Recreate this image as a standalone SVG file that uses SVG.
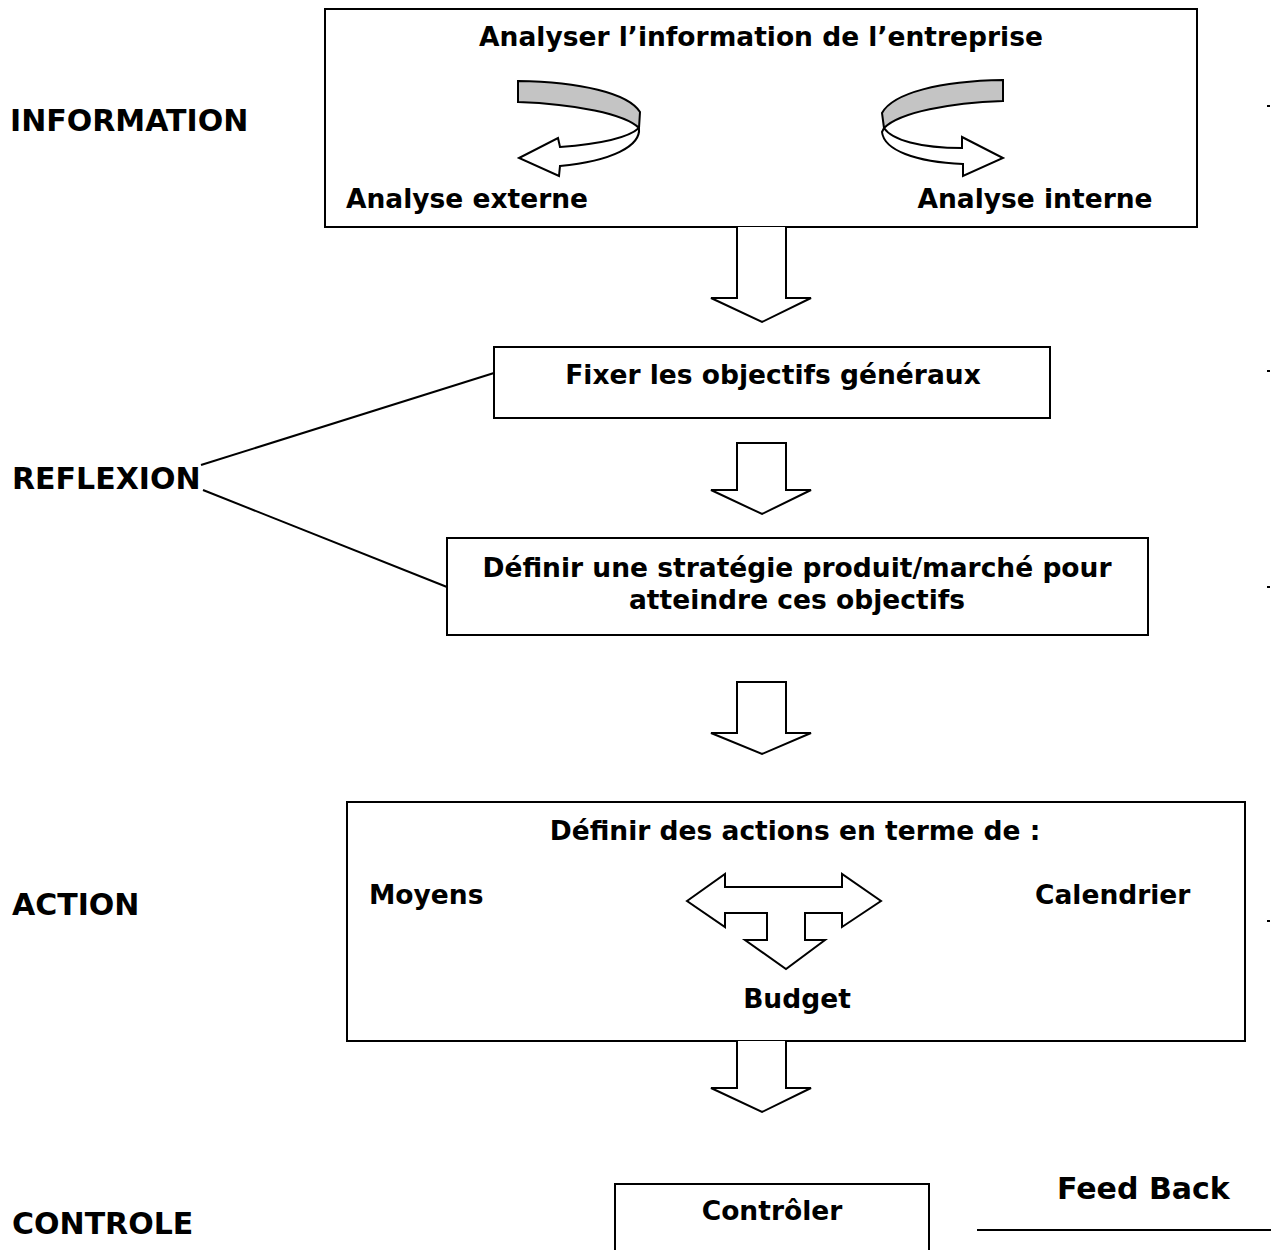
<svg xmlns="http://www.w3.org/2000/svg" width="1271" height="1250" viewBox="0 0 1271 1250">
<style>
.box{fill:#fff;stroke:#000;stroke-width:2}
.t{font-family:"DejaVu Sans","Verdana",sans-serif;font-weight:bold;font-size:26.5px;fill:#000}
.lab{font-family:"DejaVu Sans","Verdana",sans-serif;font-weight:bold;font-size:30px;fill:#000}
.m{text-anchor:middle}
.ar{fill:#fff;stroke:#000;stroke-width:2;stroke-linejoin:miter}
.sh{fill:#c4c4c4;stroke:#000;stroke-width:2}
.ln{fill:none;stroke:#000;stroke-width:2}
</style>
<rect width="1271" height="1250" fill="#fff"/>
<g id="labels">
<text class="lab" x="10" y="131">INFORMATION</text>
<text class="lab" x="12" y="489">REFLEXION</text>
<text class="lab" x="12" y="915">ACTION</text>
<text class="lab" x="12" y="1234">CONTROLE</text>
<text class="lab" x="1057" y="1199">Feed Back</text>
</g>
<g id="n-information">
<rect class="box" x="325" y="9" width="872" height="218"/>
<text class="t m" x="761" y="46">Analyser l’information de l’entreprise</text>
<path class="sh" d="M518,81 C580,82 628,93 640,112 L639,128 C625,114 575,104 518,102 Z"/>
<path class="ar" d="M639,128 C641,146 612,161 560,166 L559,176 L519,158 L558,138 L560,147 C600,144 628,138 639,128 Z"/>
<path class="sh" d="M1003,80 C940,81 893,93 882,113 L884,128 C900,112 950,103 1003,101 Z"/>
<path class="ar" d="M884,128 C892,140 920,148 962,148 L962,137 L1003,158 L963,176 L963,164 C915,162 884,150 882,132 Z"/>
<text class="t m" x="467" y="208">Analyse externe</text>
<text class="t m" x="1035" y="208">Analyse interne</text>
</g>
<g id="n-objectifs">
<rect class="box" x="494" y="347" width="556" height="71"/>
<text class="t m" x="773" y="384">Fixer les objectifs généraux</text>
</g>
<g id="n-strategie">
<rect class="box" x="447" y="538" width="701" height="97"/>
<text class="t m" x="797" y="577">Définir une stratégie produit/marché pour</text>
<text class="t m" x="797" y="609">atteindre ces objectifs</text>
</g>
<g id="n-actions">
<rect class="box" x="347" y="802" width="898" height="239"/>
<text class="t m" x="795" y="840">Définir des actions en terme de :</text>
<text class="t" x="369" y="904">Moyens</text>
<text class="t" x="1035" y="904">Calendrier</text>
<text class="t m" x="797" y="1008">Budget</text>
<path class="ar" d="M687,901 L725,874 L725,887 L842,887 L842,874 L881,901 L842,927 L842,913 L805,913 L805,940 L825,940 L786,969 L745,940 L767,940 L767,913 L725,913 L725,927 Z"/>
</g>
<g id="n-controler">
<path class="box" d="M615,1251 L615,1184 L929,1184 L929,1251"/>
<text class="t m" x="772" y="1220">Contrôler</text>
</g>
<g id="connectors">
<path class="ar" d="M737,227 L737,298 L711,298 L762,322 L811,298 L786,298 L786,227"/>
<path class="ar" d="M737,443 L786,443 L786,490 L811,490 L762,514 L711,490 L737,490 Z"/>
<path class="ar" d="M737,682 L786,682 L786,733 L811,733 L762,754 L711,733 L737,733 Z"/>
<path class="ar" d="M737,1041 L737,1088 L711,1088 L762,1112 L811,1088 L786,1088 L786,1041"/>
<path class="ln" d="M201,465 L494,373"/>
<path class="ln" d="M203,490 L447,587"/>
<path class="ln" d="M977,1230 L1271,1230"/>
</g>
<g id="marks" fill="#000">
<rect x="1267" y="105" width="3" height="2"/>
<rect x="1267" y="370" width="3" height="2"/>
<rect x="1267" y="586" width="3" height="2"/>
<rect x="1267" y="920" width="3" height="2"/>
</g>
</svg>
